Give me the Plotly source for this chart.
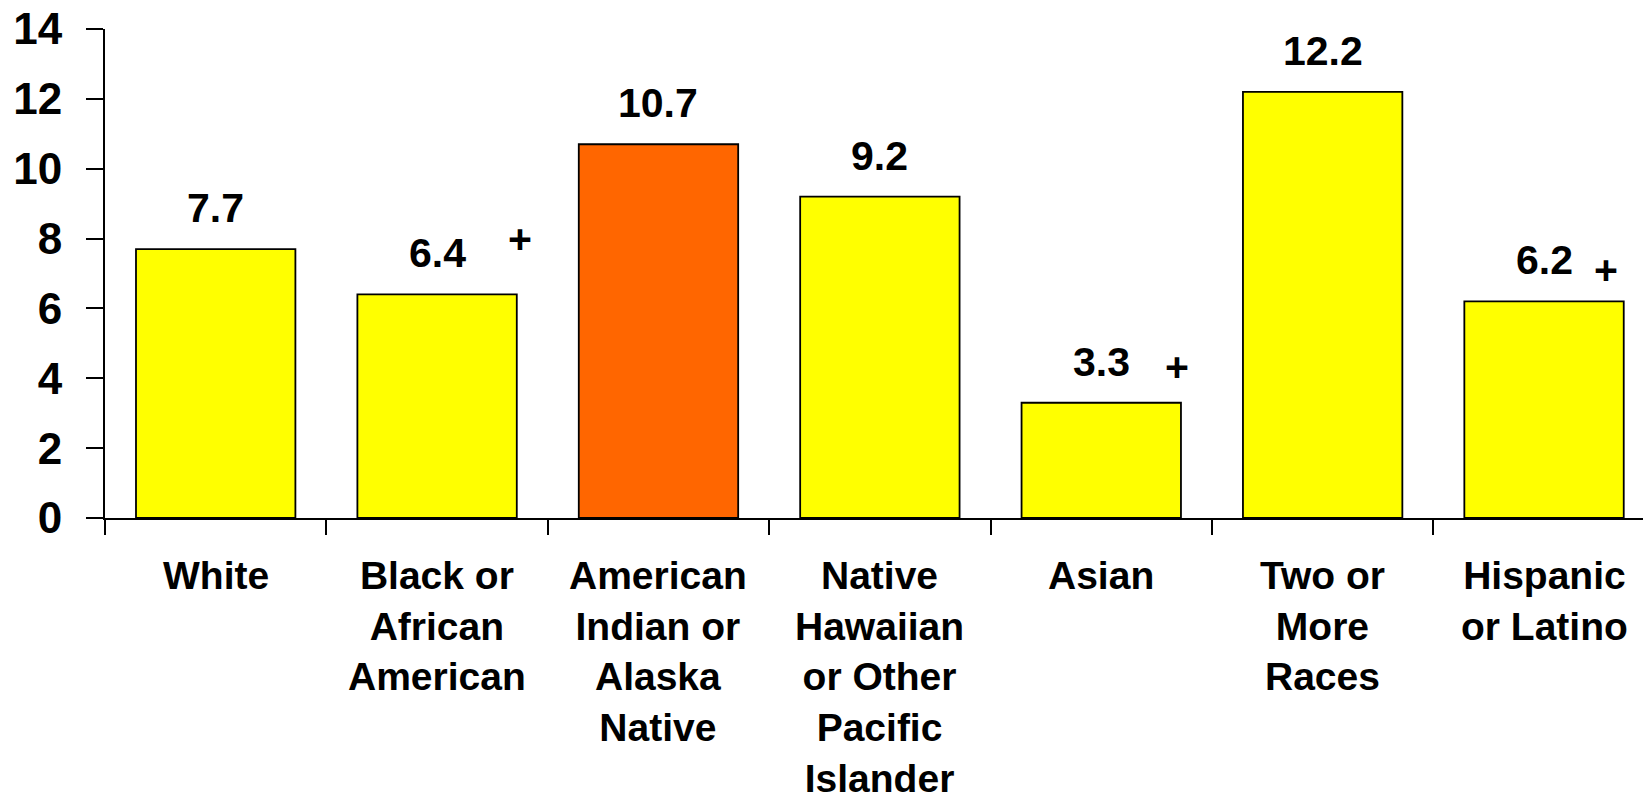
import plotly.graph_objects as go

# Category labels (one entry per line of each label)
categories = ["White", "Black or African American", "American Indian or Alaska Native",
              "Native Hawaiian or Other Pacific Islander", "Asian", "Two or More Races",
              "Hispanic or Latino"]
label_lines = [
    ["White"],
    ["Black or", "African", "American"],
    ["American", "Indian or", "Alaska", "Native"],
    ["Native", "Hawaiian", "or Other", "Pacific", "Islander"],
    ["Asian"],
    ["Two or", "More", "Races"],
    ["Hispanic", "or Latino"],
]
values = [7.7, 6.4, 10.7, 9.2, 3.3, 12.2, 6.2]
bar_colors = ["#FFFF00", "#FFFF00", "#FF6600", "#FFFF00", "#FFFF00", "#FFFF00", "#FFFF00"]
# Groups that differ significantly from the highlighted group
flagged = [False, True, False, False, True, False, True]
y_ticks = [0, 2, 4, 6, 8, 10, 12, 14]

FONT = "Liberation Sans, Arial, sans-serif"
idx = list(range(len(categories)))
# tick marks sit on the boundaries between categories
boundaries = [i - 0.5 for i in idx]

fig = go.Figure(go.Bar(
    x=idx, y=values, width=0.72,
    marker=dict(color=bar_colors, line=dict(color="black", width=1.8)),
    hoverinfo="skip",
))

annotations = []
# Value labels above bars
for i, v in zip(idx, values):
    annotations.append(dict(x=i, y=v, xref="x", yref="y", text=f"{v:.1f}",
                            showarrow=False, yanchor="middle", yshift=41,
                            font=dict(family=FONT, size=41, color="black", weight="bold")))
# "+" markers
plus_pos = {1: (0.375, 8.0), 4: (0.34, 4.33), 6: (0.28, 7.09)}
for i, f in zip(idx, flagged):
    if f:
        dx, yy = plus_pos[i]
        annotations.append(dict(x=i + dx, y=yy, xref="x", yref="y", text="+",
                                showarrow=False, yanchor="middle",
                                font=dict(family=FONT, size=41, color="black", weight="bold")))
# Multi-line category labels under the axis
for i, lines in zip(idx, label_lines):
    annotations.append(dict(x=i, y=0, xref="x", yref="paper", text="<br>".join(lines),
                            showarrow=False, yanchor="top", xanchor="center", yshift=-34,
                            align="center",
                            font=dict(family=FONT, size=39, color="black", weight="bold")))

fig.update_layout(
    width=1643, height=800,
    margin=dict(l=105, r=0, t=29, b=282),
    paper_bgcolor="white", plot_bgcolor="white",
    showlegend=False,
    annotations=annotations,
    xaxis=dict(
        range=[-0.5, 6.447], showticklabels=False,
        tickmode="array", tickvals=boundaries,
        ticks="outside", ticklen=15, tickwidth=1.8, tickcolor="black",
        showline=True, linecolor="black", linewidth=1.8,
        showgrid=False, zeroline=False,
    ),
    yaxis=dict(
        range=[0, 14], tickvals=y_ticks,
        ticks="outside", ticklen=17, tickwidth=1.8, tickcolor="black",
        ticklabelstandoff=15,
        showline=True, linecolor="black", linewidth=1.8,
        showgrid=False, zeroline=False,
        tickfont=dict(family=FONT, size=44, color="black", weight="bold"),
    ),
)

fig.write_html("out.html")
